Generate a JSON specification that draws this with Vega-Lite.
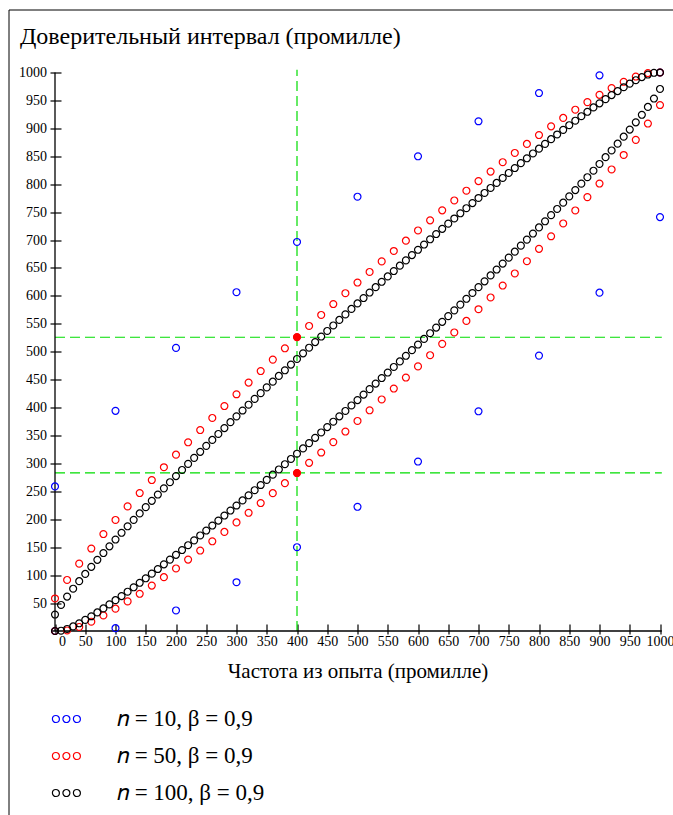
{
"$schema": "https://vega.github.io/schema/vega-lite/v6.json",
"width": 664.5,
"height": 805.5,
"autosize": {"type": "none"},
"padding": {"left": 8.5, "top": 9.5, "right": 0, "bottom": 0},
"background": "white",
"config": {"view": {"stroke": "black", "strokeWidth": 1}, "font": "Liberation Serif"},
"title": {"text": "Доверительный интервал (промилле)", "anchor": "start", "frame": "group", "orient": "top", "offset": -58, "dx": 11.5, "baseline": "alphabetic", "font": "Liberation Serif", "fontSize": 24, "fontWeight": "normal", "color": "black"},
"datasets": {
"axes": [{"x": 0, "y": 0, "x2": 0, "y2": 1000}, {"x": -5, "y": 0, "x2": 1003, "y2": 0}],
"guides": [{"x": 400, "y": 0, "x2": 400, "y2": 1005}, {"x": 0, "y": 526, "x2": 1003, "y2": 526}, {"x": 0, "y": 283, "x2": 1003, "y2": 283}],
"marks": [{"x": 400, "y": 526}, {"x": 400, "y": 283}],
"pts": [
{"n":10,"x":0,"y":0},{"n":10,"x":100,"y":5.1},{"n":10,"x":200,"y":36.8},{"n":10,"x":300,"y":87.3},{"n":10,"x":400,"y":150},{"n":10,"x":500,"y":222.4},{"n":10,"x":600,"y":303.4},{"n":10,"x":700,"y":393.4},{"n":10,"x":800,"y":493.1},{"n":10,"x":900,"y":605.8},{"n":10,"x":1000,"y":741.1},
{"n":10,"x":0,"y":258.9},{"n":10,"x":100,"y":394.2},{"n":10,"x":200,"y":506.9},{"n":10,"x":300,"y":606.6},{"n":10,"x":400,"y":696.6},{"n":10,"x":500,"y":777.6},{"n":10,"x":600,"y":850},{"n":10,"x":700,"y":912.7},{"n":10,"x":800,"y":963.2},{"n":10,"x":900,"y":994.9},{"n":10,"x":1000,"y":1000},
{"n":50,"x":0,"y":0},{"n":50,"x":20,"y":1.0},{"n":50,"x":40,"y":7.2},{"n":50,"x":60,"y":16.6},{"n":50,"x":80,"y":27.8},{"n":50,"x":100,"y":40.0},{"n":50,"x":120,"y":53.0},{"n":50,"x":140,"y":66.6},{"n":50,"x":160,"y":81.3},{"n":50,"x":180,"y":96.4},{"n":50,"x":200,"y":112.0},{"n":50,"x":220,"y":127.9},{"n":50,"x":240,"y":144.1},{"n":50,"x":260,"y":160.6},{"n":50,"x":280,"y":177.4},{"n":50,"x":300,"y":194.4},{"n":50,"x":320,"y":211.7},{"n":50,"x":340,"y":229.1},{"n":50,"x":360,"y":246.8},{"n":50,"x":380,"y":264.7},{"n":50,"x":400,"y":282.8},{"n":50,"x":420,"y":301.1},{"n":50,"x":440,"y":319.6},{"n":50,"x":460,"y":338.2},{"n":50,"x":480,"y":357.1},{"n":50,"x":500,"y":376.1},{"n":50,"x":520,"y":395.2},{"n":50,"x":540,"y":414.6},{"n":50,"x":560,"y":434.1},{"n":50,"x":580,"y":453.8},{"n":50,"x":600,"y":473.8},{"n":50,"x":620,"y":493.8},{"n":50,"x":640,"y":514.1},{"n":50,"x":660,"y":534.5},{"n":50,"x":680,"y":555.2},{"n":50,"x":700,"y":576.1},{"n":50,"x":720,"y":597.2},{"n":50,"x":740,"y":618.6},{"n":50,"x":760,"y":640.2},{"n":50,"x":780,"y":662.1},{"n":50,"x":800,"y":684.3},{"n":50,"x":820,"y":706.8},{"n":50,"x":840,"y":729.7},{"n":50,"x":860,"y":753.0},{"n":50,"x":880,"y":776.9},{"n":50,"x":900,"y":801.2},{"n":50,"x":920,"y":826.4},{"n":50,"x":940,"y":852.3},{"n":50,"x":960,"y":879.4},{"n":50,"x":980,"y":908.6},{"n":50,"x":1000,"y":941.8},
{"n":50,"x":0,"y":58.2},{"n":50,"x":20,"y":91.4},{"n":50,"x":40,"y":120.6},{"n":50,"x":60,"y":147.7},{"n":50,"x":80,"y":173.6},{"n":50,"x":100,"y":198.8},{"n":50,"x":120,"y":223.1},{"n":50,"x":140,"y":247.0},{"n":50,"x":160,"y":270.3},{"n":50,"x":180,"y":293.2},{"n":50,"x":200,"y":315.7},{"n":50,"x":220,"y":337.9},{"n":50,"x":240,"y":359.8},{"n":50,"x":260,"y":381.4},{"n":50,"x":280,"y":402.8},{"n":50,"x":300,"y":423.9},{"n":50,"x":320,"y":444.8},{"n":50,"x":340,"y":465.5},{"n":50,"x":360,"y":485.9},{"n":50,"x":380,"y":506.2},{"n":50,"x":400,"y":526.2},{"n":50,"x":420,"y":546.2},{"n":50,"x":440,"y":565.9},{"n":50,"x":460,"y":585.4},{"n":50,"x":480,"y":604.8},{"n":50,"x":500,"y":623.9},{"n":50,"x":520,"y":642.9},{"n":50,"x":540,"y":661.8},{"n":50,"x":560,"y":680.4},{"n":50,"x":580,"y":698.9},{"n":50,"x":600,"y":717.2},{"n":50,"x":620,"y":735.3},{"n":50,"x":640,"y":753.2},{"n":50,"x":660,"y":770.9},{"n":50,"x":680,"y":788.3},{"n":50,"x":700,"y":805.6},{"n":50,"x":720,"y":822.6},{"n":50,"x":740,"y":839.4},{"n":50,"x":760,"y":855.9},{"n":50,"x":780,"y":872.1},{"n":50,"x":800,"y":888.0},{"n":50,"x":820,"y":903.6},{"n":50,"x":840,"y":918.7},{"n":50,"x":860,"y":933.4},{"n":50,"x":880,"y":947.0},{"n":50,"x":900,"y":960.0},{"n":50,"x":920,"y":972.2},{"n":50,"x":940,"y":983.4},{"n":50,"x":960,"y":992.8},{"n":50,"x":980,"y":999.0},{"n":50,"x":1000,"y":1000},
{"n":100,"x":0,"y":0},{"n":100,"x":10,"y":0.5},{"n":100,"x":20,"y":3.6},{"n":100,"x":30,"y":8.2},{"n":100,"x":40,"y":13.8},{"n":100,"x":50,"y":19.9},{"n":100,"x":60,"y":26.4},{"n":100,"x":70,"y":33.3},{"n":100,"x":80,"y":40.4},{"n":100,"x":90,"y":47.7},{"n":100,"x":100,"y":55.2},{"n":100,"x":110,"y":62.5},{"n":100,"x":120,"y":70.3},{"n":100,"x":130,"y":78.3},{"n":100,"x":140,"y":86.3},{"n":100,"x":150,"y":94.4},{"n":100,"x":160,"y":102.7},{"n":100,"x":170,"y":111.0},{"n":100,"x":180,"y":119.4},{"n":100,"x":190,"y":127.8},{"n":100,"x":200,"y":136.4},{"n":100,"x":210,"y":145.0},{"n":100,"x":220,"y":153.6},{"n":100,"x":230,"y":162.3},{"n":100,"x":240,"y":171.1},{"n":100,"x":250,"y":179.9},{"n":100,"x":260,"y":188.8},{"n":100,"x":270,"y":197.7},{"n":100,"x":280,"y":206.7},{"n":100,"x":290,"y":215.7},{"n":100,"x":300,"y":224.7},{"n":100,"x":310,"y":233.8},{"n":100,"x":320,"y":243.0},{"n":100,"x":330,"y":252.1},{"n":100,"x":340,"y":261.4},{"n":100,"x":350,"y":270.6},{"n":100,"x":360,"y":279.9},{"n":100,"x":370,"y":289.2},{"n":100,"x":380,"y":298.6},{"n":100,"x":390,"y":308.0},{"n":100,"x":400,"y":317.4},{"n":100,"x":410,"y":326.9},{"n":100,"x":420,"y":336.4},{"n":100,"x":430,"y":345.9},{"n":100,"x":440,"y":355.5},{"n":100,"x":450,"y":365.1},{"n":100,"x":460,"y":374.7},{"n":100,"x":470,"y":384.4},{"n":100,"x":480,"y":394.0},{"n":100,"x":490,"y":403.8},{"n":100,"x":500,"y":413.5},{"n":100,"x":510,"y":423.3},{"n":100,"x":520,"y":433.1},{"n":100,"x":530,"y":443.0},{"n":100,"x":540,"y":452.9},{"n":100,"x":550,"y":462.8},{"n":100,"x":560,"y":472.8},{"n":100,"x":570,"y":482.7},{"n":100,"x":580,"y":492.8},{"n":100,"x":590,"y":502.8},{"n":100,"x":600,"y":512.9},{"n":100,"x":610,"y":523.0},{"n":100,"x":620,"y":533.2},{"n":100,"x":630,"y":543.3},{"n":100,"x":640,"y":553.6},{"n":100,"x":650,"y":563.8},{"n":100,"x":660,"y":574.1},{"n":100,"x":670,"y":584.4},{"n":100,"x":680,"y":594.8},{"n":100,"x":690,"y":605.2},{"n":100,"x":700,"y":615.7},{"n":100,"x":710,"y":626.1},{"n":100,"x":720,"y":636.7},{"n":100,"x":730,"y":647.2},{"n":100,"x":740,"y":657.9},{"n":100,"x":750,"y":668.5},{"n":100,"x":760,"y":679.2},{"n":100,"x":770,"y":690.0},{"n":100,"x":780,"y":700.8},{"n":100,"x":790,"y":711.7},{"n":100,"x":800,"y":722.6},{"n":100,"x":810,"y":733.6},{"n":100,"x":820,"y":744.6},{"n":100,"x":830,"y":755.7},{"n":100,"x":840,"y":766.9},{"n":100,"x":850,"y":778.2},{"n":100,"x":860,"y":789.5},{"n":100,"x":870,"y":801.0},{"n":100,"x":880,"y":812.5},{"n":100,"x":890,"y":824.1},{"n":100,"x":900,"y":836.2},{"n":100,"x":910,"y":848.4},{"n":100,"x":920,"y":860.4},{"n":100,"x":930,"y":872.6},{"n":100,"x":940,"y":885.1},{"n":100,"x":950,"y":897.8},{"n":100,"x":960,"y":910.8},{"n":100,"x":970,"y":924.3},{"n":100,"x":980,"y":938.4},{"n":100,"x":990,"y":953.4},{"n":100,"x":1000,"y":970.5},
{"n":100,"x":0,"y":29.5},{"n":100,"x":10,"y":46.6},{"n":100,"x":20,"y":61.6},{"n":100,"x":30,"y":75.7},{"n":100,"x":40,"y":89.2},{"n":100,"x":50,"y":102.2},{"n":100,"x":60,"y":114.9},{"n":100,"x":70,"y":127.4},{"n":100,"x":80,"y":139.6},{"n":100,"x":90,"y":151.6},{"n":100,"x":100,"y":163.8},{"n":100,"x":110,"y":175.9},{"n":100,"x":120,"y":187.5},{"n":100,"x":130,"y":199.0},{"n":100,"x":140,"y":210.5},{"n":100,"x":150,"y":221.8},{"n":100,"x":160,"y":233.1},{"n":100,"x":170,"y":244.3},{"n":100,"x":180,"y":255.4},{"n":100,"x":190,"y":266.4},{"n":100,"x":200,"y":277.4},{"n":100,"x":210,"y":288.3},{"n":100,"x":220,"y":299.2},{"n":100,"x":230,"y":310.0},{"n":100,"x":240,"y":320.8},{"n":100,"x":250,"y":331.5},{"n":100,"x":260,"y":342.1},{"n":100,"x":270,"y":352.8},{"n":100,"x":280,"y":363.3},{"n":100,"x":290,"y":373.9},{"n":100,"x":300,"y":384.3},{"n":100,"x":310,"y":394.8},{"n":100,"x":320,"y":405.2},{"n":100,"x":330,"y":415.6},{"n":100,"x":340,"y":425.9},{"n":100,"x":350,"y":436.2},{"n":100,"x":360,"y":446.4},{"n":100,"x":370,"y":456.7},{"n":100,"x":380,"y":466.8},{"n":100,"x":390,"y":477.0},{"n":100,"x":400,"y":487.1},{"n":100,"x":410,"y":497.2},{"n":100,"x":420,"y":507.2},{"n":100,"x":430,"y":517.3},{"n":100,"x":440,"y":527.2},{"n":100,"x":450,"y":537.2},{"n":100,"x":460,"y":547.1},{"n":100,"x":470,"y":557.0},{"n":100,"x":480,"y":566.9},{"n":100,"x":490,"y":576.7},{"n":100,"x":500,"y":586.5},{"n":100,"x":510,"y":596.2},{"n":100,"x":520,"y":606.0},{"n":100,"x":530,"y":615.6},{"n":100,"x":540,"y":625.3},{"n":100,"x":550,"y":634.9},{"n":100,"x":560,"y":644.5},{"n":100,"x":570,"y":654.1},{"n":100,"x":580,"y":663.6},{"n":100,"x":590,"y":673.1},{"n":100,"x":600,"y":682.6},{"n":100,"x":610,"y":692.0},{"n":100,"x":620,"y":701.4},{"n":100,"x":630,"y":710.8},{"n":100,"x":640,"y":720.1},{"n":100,"x":650,"y":729.4},{"n":100,"x":660,"y":738.6},{"n":100,"x":670,"y":747.9},{"n":100,"x":680,"y":757.0},{"n":100,"x":690,"y":766.2},{"n":100,"x":700,"y":775.3},{"n":100,"x":710,"y":784.3},{"n":100,"x":720,"y":793.3},{"n":100,"x":730,"y":802.3},{"n":100,"x":740,"y":811.2},{"n":100,"x":750,"y":820.1},{"n":100,"x":760,"y":828.9},{"n":100,"x":770,"y":837.7},{"n":100,"x":780,"y":846.4},{"n":100,"x":790,"y":855.0},{"n":100,"x":800,"y":863.6},{"n":100,"x":810,"y":872.2},{"n":100,"x":820,"y":880.6},{"n":100,"x":830,"y":889.0},{"n":100,"x":840,"y":897.3},{"n":100,"x":850,"y":905.6},{"n":100,"x":860,"y":913.7},{"n":100,"x":870,"y":921.7},{"n":100,"x":880,"y":929.7},{"n":100,"x":890,"y":937.5},{"n":100,"x":900,"y":944.8},{"n":100,"x":910,"y":952.3},{"n":100,"x":920,"y":959.6},{"n":100,"x":930,"y":966.7},{"n":100,"x":940,"y":973.6},{"n":100,"x":950,"y":980.1},{"n":100,"x":960,"y":986.2},{"n":100,"x":970,"y":991.8},{"n":100,"x":980,"y":996.4},{"n":100,"x":990,"y":999.5},{"n":100,"x":1000,"y":1000}
]
},
"encoding": {
  "x": {"field": "x", "type": "quantitative",
   "scale": {"domain": [0, 1000], "range": [46.5, 651.5], "nice": false, "zero": false},
   "axis": {"title": "Частота из опыта (промилле)", "orient": "bottom", "offset": -191, "domain": false, "grid": false, "format": "d",
    "values": [0,50,100,150,200,250,300,350,400,450,500,550,600,650,700,750,800,850,900,950,1000],
    "tickSize": 10, "tickColor": "black", "tickWidth": 1.2, "labelFont": "Liberation Serif", "labelFontSize": 14, "labelColor": "black",
    "labelPadding": 0, "labelFlush": false, "labelOverlap": false, "labelBound": false,
    "labelOffset": {"condition": {"test": "datum.value === 0", "value": 7}, "value": 0},
    "titleFont": "Liberation Serif", "titleFontSize": 21, "titleFontWeight": "normal", "titleColor": "black", "titlePadding": 12}},
  "y": {"field": "y", "type": "quantitative",
   "scale": {"domain": [0, 1000], "range": [621.5, 63], "nice": false, "zero": false},
   "axis": {"title": null, "orient": "left", "offset": -52.5, "domain": false, "grid": false, "format": "d",
    "values": [50,100,150,200,250,300,350,400,450,500,550,600,650,700,750,800,850,900,950,1000],
    "tickSize": 11, "tickColor": "black", "tickWidth": 1.2, "labelFont": "Liberation Serif", "labelFontSize": 14, "labelColor": "black",
    "labelPadding": 3.5, "labelFlush": false, "labelOverlap": false, "labelBound": false}}
},
"layer": [
{"data": {"name": "guides"}, "mark": {"type": "rule", "color": "#00dd00", "strokeWidth": 1.2, "strokeDash": [10, 5]},
 "encoding": {"x2": {"field": "x2"}, "y2": {"field": "y2"}}},
{"data": {"name": "axes"}, "mark": {"type": "rule", "color": "black", "strokeWidth": 1.3},
 "encoding": {"x2": {"field": "x2"}, "y2": {"field": "y2"}}},
{"data": {"name": "pts"}, "mark": {"type": "point", "shape": "circle", "filled": false, "size": 48, "strokeWidth": 1.2, "opacity": 1},
 "encoding": {
  "color": {"field": "n", "type": "nominal",
   "scale": {"domain": [10, 50, 100], "range": ["#0000ff", "#ff0000", "#000000"]},
   "legend": {"orient": "none", "legendX": 42.4, "legendY": 694, "title": null, "padding": 0,
    "symbolType": "M-0.96,0a0.24,0.24 0 1,0 0.48,0a0.24,0.24 0 1,0 -0.48,0M-0.24,0a0.24,0.24 0 1,0 0.48,0a0.24,0.24 0 1,0 -0.48,0M0.48,0a0.24,0.24 0 1,0 0.48,0a0.24,0.24 0 1,0 -0.48,0",
    "symbolSize": 850, "symbolStrokeWidth": 1.2, "symbolFillColor": "transparent", "symbolOpacity": 1,
    "labelFont": "Liberation Serif", "labelFontSize": 23, "labelColor": "black", "labelOffset": 35, "labelLimit": 400, "rowPadding": 9,
    "labelExpr": "'𝑛 = ' + datum.label + ', β = 0,9'"}}
 }},
{"data": {"name": "marks"}, "mark": {"type": "point", "shape": "circle", "filled": true, "size": 55, "color": "#ff0000", "opacity": 1}}
]
}
